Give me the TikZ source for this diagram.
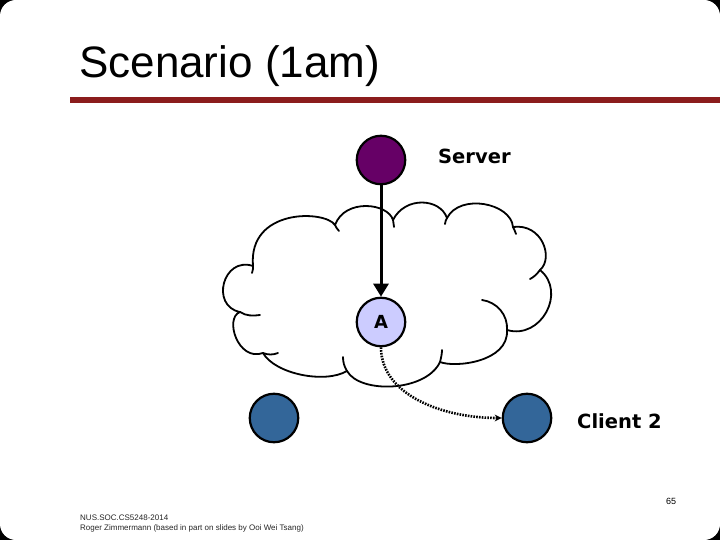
\documentclass[tikz,border=0pt]{standalone}
\usepackage{fontspec}
\setmainfont{Liberation Sans}
\newfontfamily\vfont{DejaVu Sans}
\usetikzlibrary{arrows.meta}
\definecolor{slidered}{HTML}{8B1C1C}
\definecolor{srvpurple}{HTML}{660066}
\definecolor{nodelav}{HTML}{CCCCFF}
\definecolor{clientblue}{HTML}{336699}
\begin{document}
\begin{tikzpicture}[x=1pt,y=-1pt,
  netnode/.style={circle,draw=black,line width=2.2pt,minimum size=48.5pt,inner sep=0pt},
  lbl/.style={anchor=base west,inner sep=0pt,font=\vfont\bfseries\fontsize{19.5}{22}\selectfont},
  cloudline/.style={line width=1.8pt,line cap=round,line join=round},
  mainarrow/.style={line width=3pt,-{Triangle[length=13pt,width=15pt]}},
  dotarrow/.style={line width=2.6pt,dash pattern=on 1.6pt off 1.2pt,-{Stealth[length=7pt,width=7pt]}}
]
\useasboundingbox (0,0) rectangle (720,540);
\fill[black] (0,0) rectangle (720,540);
\fill[white,rounded corners=16pt] (0,0) rectangle (720,540);

% title
\node[anchor=base west,inner sep=0pt,font=\fontsize{44}{50}\selectfont] (title) at (79,78) {Scenario (1am)};
\fill[slidered] (70,97) rectangle (720,103);

% cloud
\draw[cloudline,fill=white] (253,266)
 .. controls (223,256) and (210,306) .. (240,312)
 .. controls (224,318) and (238,362) .. (263,353)
 .. controls (275,374) and (325,384) .. (347,371)
 .. controls (360,394) and (426,392) .. (440,362)
 .. controls (455,368) and (509,362) .. (507,330)
 .. controls (541,340) and (567,292) .. (540,270)
 .. controls (554,258) and (542,223) .. (513,227)
 .. controls (511,203) and (460,193) .. (447,218)
 .. controls (440,198) and (405,196) .. (393,220)
 .. controls (388,203) and (345,198) .. (335,225)
 .. controls (325,210) and (248,208) .. (253,266) -- cycle;
% cloud tails
\draw[cloudline] (240,312) .. controls (246,316) and (253,316) .. (260,315);
\draw[cloudline] (263,353) .. controls (268,355) and (273,355) .. (278,353);
\draw[cloudline] (347,371) .. controls (344,366) and (343,362) .. (343,357);
\draw[cloudline] (440,362) .. controls (441,358) and (442,354) .. (442,350);
\draw[cloudline] (507,330) .. controls (508,315) and (497,302) .. (482,300);
\draw[cloudline] (540,270) .. controls (537,274) and (534,277) .. (530,279);
\draw[cloudline] (513,227) .. controls (514,229) and (515,231) .. (516,234);
\draw[cloudline] (447,218) .. controls (446,220) and (445,222) .. (445,224);
\draw[cloudline] (393,220) .. controls (393,222) and (394,224) .. (394,227);
\draw[cloudline] (335,225) .. controls (336,227) and (337,229) .. (339,231);
\draw[cloudline] (253,266) .. controls (253,268) and (253,271) .. (252,273);

% nodes
\node[netnode,fill=srvpurple] (server) at (381,160) {};
\node[netnode,fill=nodelav,font=\vfont\bfseries\fontsize{18}{20}\selectfont] (A) at (381,322) {A};
\node[netnode,fill=clientblue] (c1) at (274,418) {};
\node[netnode,fill=clientblue] (c2) at (527,418) {};

\node[lbl] (serverlbl) at (438,164) {Server};
\node[lbl] (c2lbl) at (577,428) {Client 2};

% connectors
\draw[mainarrow] (server) -- (A);
\draw[dotarrow] (A.south) .. controls +(0,47) and +(-60,0) .. (c2.west);

% footer
\node[font=\fontsize{9}{10}\selectfont,inner sep=0pt] (pgnum) at (671,501) {65};
\node[anchor=base west,align=left,inner sep=0pt,text=black!85,font=\fontsize{8}{10}\selectfont] (footer) at (80,530) {NUS.SOC.CS5248-2014\\Roger Zimmermann (based in part on slides by Ooi Wei Tsang)};
\end{tikzpicture}
\end{document}
